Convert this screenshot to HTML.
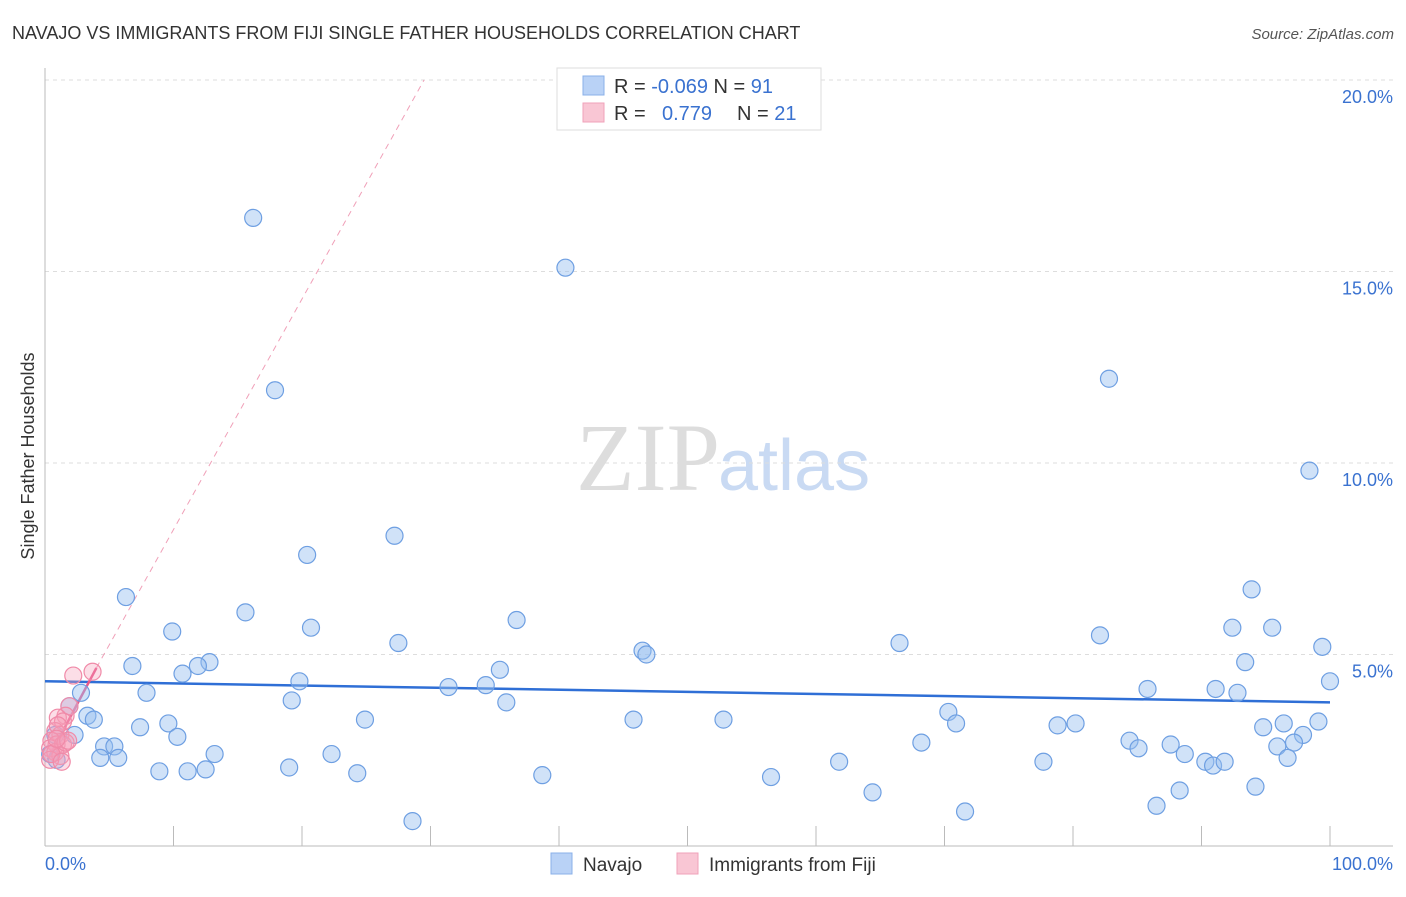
<!DOCTYPE html>
<html><head><meta charset="utf-8"><style>
body{margin:0;background:#fff;font-family:"Liberation Sans",sans-serif;}
svg text{font-family:"Liberation Sans",sans-serif;}
</style></head><body>
<svg id="chart" width="1406" height="892" viewBox="0 0 1406 892">
<text x="12" y="39" font-size="18" fill="#333">NAVAJO VS IMMIGRANTS FROM FIJI SINGLE FATHER HOUSEHOLDS CORRELATION CHART</text>
<text x="1394" y="39" font-size="15" fill="#555" font-style="italic" text-anchor="end">Source: ZipAtlas.com</text>
<text x="720" y="490" font-size="96" fill="#ddd" text-anchor="end" font-family="Liberation Serif" style="font-family:'Liberation Serif',serif">ZIP</text>
<text x="718" y="490" font-size="72" fill="#c9daf3">atlas</text>
<text transform="translate(34,456) rotate(-90)" font-size="18" fill="#333" text-anchor="middle">Single Father Households</text>
<g id="grid"></g><g id="axes"></g><g id="trend"></g><g id="pts"></g>
<g>
<rect x="557" y="68" width="264" height="62" fill="#fff" stroke="#ddd"/>
<rect x="583" y="76" width="21" height="19" fill="#b9d2f6" stroke="#8ab0e8"/>
<rect x="583" y="103" width="21" height="19" fill="#f9c6d4" stroke="#f0a2ba"/>
<text x="614" y="93" font-size="20" fill="#333">R = <tspan fill="#3a72d0">-0.069</tspan>   N = <tspan fill="#3a72d0">91</tspan></text>
<text x="614" y="120" font-size="20" fill="#333">R = <tspan fill="#3a72d0" x="662">0.779</tspan><tspan x="737">N = </tspan><tspan fill="#3a72d0">21</tspan></text>
</g>
<g>
<rect x="551" y="853" width="21" height="21" fill="#b9d2f6" stroke="#8ab0e8"/>
<text x="583" y="871" font-size="19" fill="#333">Navajo</text>
<rect x="677" y="853" width="21" height="21" fill="#f9c6d4" stroke="#f0a2ba"/>
<text x="709" y="871" font-size="19" fill="#333">Immigrants from Fiji</text>
</g>
</svg>
<script>
const yTicks=[5,10,15,20];
const yTickLabels=["5.0%","10.0%","15.0%","20.0%"];
const xTickLabels=["0.0%","100.0%"];
const navajoX=[16.2,40.5,82.8,98.4,17.9,27.2,20.4,6.3,15.6,93.9,36.7,9.9,20.7,92.4,95.5,27.5,66.5,82.1,46.5,46.8,99.4,12.8,11.9,6.8,10.7,35.4,93.4,19.8,2.8,7.9,31.4,34.3,100,85.8,91.1,92.8,19.2,35.9,1.9,3.3,3.8,7.4,9.6,24.9,45.8,52.8,70.3,70.9,78.8,80.2,96.4,99.1,94.8,2.3,10.3,97.9,97.2,95.9,4.6,5.4,13.2,22.3,68.2,84.4,85.1,87.6,88.7,4.3,5.7,90.3,90.9,91.8,96.7,61.8,77.7,8.9,11.1,12.5,19.0,24.3,38.7,56.5,64.4,88.3,94.2,86.5,71.6,28.6,0.8,0.9,0.4];
const navajoY=[16.4,15.1,12.2,9.8,11.9,8.1,7.6,6.5,6.1,6.7,5.9,5.6,5.7,5.7,5.7,5.3,5.3,5.5,5.1,5.0,5.2,4.8,4.7,4.7,4.5,4.6,4.8,4.3,4.0,4.0,4.15,4.2,4.3,4.1,4.1,4.0,3.8,3.75,3.65,3.4,3.3,3.1,3.2,3.3,3.3,3.3,3.5,3.2,3.15,3.2,3.2,3.25,3.1,2.9,2.85,2.9,2.7,2.6,2.6,2.6,2.4,2.4,2.7,2.75,2.55,2.65,2.4,2.3,2.3,2.2,2.1,2.2,2.3,2.2,2.2,1.95,1.95,2.0,2.05,1.9,1.85,1.8,1.4,1.45,1.55,1.05,0.9,0.65,2.9,2.25,2.4];
const fijiX=[2.2,3.7,1.9,1.6,1.0,1.4,0.8,1.2,0.5,0.9,0.4,1.4,0.8,1.2,0.4,1.6,1.0,0.5,1.3,1.8,0.9];
const fijiY=[4.45,4.55,3.65,3.4,3.35,3.25,3.0,2.9,2.75,2.65,2.55,2.65,2.45,2.35,2.25,2.7,3.15,2.4,2.2,2.75,2.8];
const navajoTrend=[[0,4.3],[100,3.75]];
const fijiTrendSolid=[[0.2,2.25],[4,4.65]];
const fijiTrendDashEnd=[29.5,20];
const sx=v=>45+v*12.85, sy=v=>846-v*38.3;
const NS="http://www.w3.org/2000/svg";
function mk(t,a,p){const e=document.createElementNS(NS,t);for(const k in a)e.setAttribute(k,a[k]);document.getElementById(p).appendChild(e);return e;}
yTicks.forEach((t,i)=>{
 const l=mk('line',{x1:45,x2:1393,y1:sy(t),y2:sy(t),stroke:'#ddd','stroke-dasharray':'4,4'},'grid');
 
 
 const tx=mk('text',{x:1393,y:sy(t)+23,'font-size':18,fill:'#3a72d0','text-anchor':'end'},'grid');
 tx.textContent=yTickLabels[i];
 
 
});
let a=mk('line',{x1:45,x2:45,y1:68,y2:846,stroke:'#bbb'},'axes');


a=mk('line',{x1:45,x2:1393,y1:846,y2:846,stroke:'#bbb'},'axes');


for(let i=1;i<=10;i++){const t=mk('line',{x1:sx(i*10),x2:sx(i*10),y1:826,y2:846,stroke:'#bbb'},'axes');
 
 }
[[0,'start',45],[100,'end',1393]].forEach((d,i)=>{const t=mk('text',{x:d[2],y:870,'font-size':18,fill:'#3a72d0','text-anchor':d[1]},'axes');t.textContent=xTickLabels[i];
 
 });
navajoX.forEach((x,i)=>{const c=mk('circle',{cx:sx(x),cy:sy(navajoY[i]),r:8.5,fill:'rgba(150,190,240,0.45)',stroke:'#6e9fe2','stroke-width':1.2},'pts');
 
 });
fijiX.forEach((x,i)=>{const c=mk('circle',{cx:sx(x),cy:sy(fijiY[i]),r:8.5,fill:'rgba(245,160,185,0.35)',stroke:'#f08aa8','stroke-width':1.2},'pts');
 
 });
let t=mk('line',{x1:sx(navajoTrend[0][0]),y1:sy(navajoTrend[0][1]),x2:sx(navajoTrend[1][0]),y2:sy(navajoTrend[1][1]),stroke:'#2f6fd6','stroke-width':2.5},'trend');


t=mk('line',{x1:sx(fijiTrendSolid[1][0]),y1:sy(fijiTrendSolid[1][1]),x2:sx(fijiTrendDashEnd[0]),y2:sy(fijiTrendDashEnd[1]),stroke:'#f0a0b8','stroke-width':1,'stroke-dasharray':'6,5'},'trend');


t=mk('line',{x1:sx(fijiTrendSolid[0][0]),y1:sy(fijiTrendSolid[0][1]),x2:sx(fijiTrendSolid[1][0]),y2:sy(fijiTrendSolid[1][1]),stroke:'#e8588a','stroke-width':2.5},'trend');


</script>
</body></html>
